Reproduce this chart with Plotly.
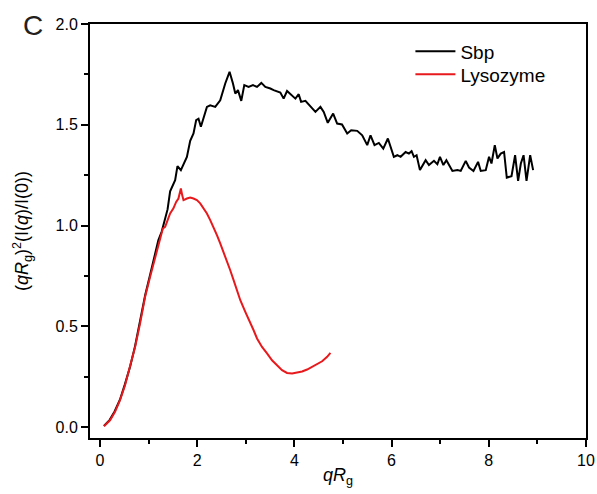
import plotly.graph_objects as go

# Sbp (black) data
sbp_x = [0.08, 0.2, 0.3, 0.41, 0.51, 0.62, 0.72, 0.82, 0.93, 1.03, 1.13, 1.2,
         1.27, 1.33, 1.39, 1.443, 1.5, 1.546, 1.594, 1.664, 1.788, 1.856, 1.924,
         1.979, 2.027, 2.076, 2.2, 2.268, 2.371, 2.474, 2.577, 2.666, 2.736,
         2.784, 2.839, 2.907, 2.969, 3.058, 3.148, 3.231, 3.32, 3.402, 3.505,
         3.573, 3.711, 3.779, 3.849, 3.953, 4.021, 4.089, 4.138, 4.227, 4.33,
         4.433, 4.536, 4.604, 4.687, 4.798, 4.88, 4.98, 5.087, 5.169, 5.293,
         5.396, 5.499, 5.567, 5.649, 5.738, 5.829, 5.924, 6.047, 6.118, 6.186,
         6.289, 6.357, 6.412, 6.46, 6.515, 6.584, 6.701, 6.769, 6.872, 6.942,
         6.996, 7.066, 7.128, 7.252, 7.355, 7.423, 7.526, 7.594, 7.685, 7.78,
         7.835, 7.938, 8.006, 8.056, 8.124, 8.179, 8.247, 8.315, 8.371, 8.468,
         8.542, 8.604, 8.66, 8.716, 8.777, 8.852, 8.913]
sbp_y = [0.005, 0.035, 0.077, 0.135, 0.21, 0.30, 0.40, 0.52, 0.655, 0.755, 0.85, 0.926,
         0.97, 1.02, 1.08, 1.17, 1.2, 1.225, 1.295, 1.275, 1.34, 1.42, 1.457,
         1.523, 1.53, 1.49, 1.589, 1.597, 1.589, 1.622, 1.705, 1.763, 1.705,
         1.655, 1.672, 1.619, 1.697, 1.688, 1.697, 1.688, 1.708, 1.688, 1.68,
         1.672, 1.66, 1.63, 1.668, 1.647, 1.63, 1.652, 1.614, 1.619, 1.589,
         1.564, 1.589, 1.564, 1.51, 1.556, 1.506, 1.502, 1.457, 1.473, 1.47,
         1.448, 1.399, 1.448, 1.399, 1.41, 1.382, 1.432, 1.341, 1.349, 1.341,
         1.365, 1.357, 1.369, 1.341, 1.349, 1.275, 1.324, 1.3, 1.321, 1.304,
         1.341, 1.3, 1.324, 1.271, 1.275, 1.271, 1.321, 1.288, 1.271, 1.316,
         1.271, 1.275, 1.341, 1.308, 1.399, 1.333, 1.357, 1.365, 1.238, 1.245,
         1.349, 1.222, 1.308, 1.349, 1.222, 1.349, 1.275]

# Lysozyme (red) data
lys_x = [0.082, 0.206, 0.309, 0.412, 0.515, 0.619, 0.722, 0.825, 0.928, 1.031,
         1.134, 1.203, 1.251, 1.293, 1.34, 1.388, 1.443, 1.511, 1.567, 1.614,
         1.664, 1.691, 1.718, 1.788, 1.856, 1.924, 1.994, 2.062, 2.13, 2.2,
         2.268, 2.336, 2.406, 2.474, 2.542, 2.612, 2.68, 2.749, 2.818, 2.887,
         2.99, 3.093, 3.161, 3.231, 3.334, 3.437, 3.54, 3.643, 3.746, 3.849,
         3.953, 4.056, 4.159, 4.262, 4.365, 4.468, 4.571, 4.674, 4.742]
lys_y = [0.003, 0.033, 0.075, 0.133, 0.207, 0.298, 0.397, 0.514, 0.646, 0.745,
         0.836, 0.894, 0.936, 0.985, 0.993, 1.027, 1.06, 1.085, 1.117, 1.134,
         1.184, 1.151, 1.126, 1.134, 1.139, 1.134, 1.126, 1.11, 1.085, 1.06,
         1.027, 0.993, 0.952, 0.911, 0.869, 0.828, 0.778, 0.729, 0.679, 0.629,
         0.571, 0.521, 0.48, 0.439, 0.397, 0.365, 0.331, 0.306, 0.282, 0.268,
         0.265, 0.27, 0.275, 0.285, 0.298, 0.31, 0.326, 0.348, 0.368]

x_ticks = [0, 2, 4, 6, 8, 10]
x_tick_labels = ["0", "2", "4", "6", "8", "10"]
y_ticks = [0.0, 0.5, 1.0, 1.5, 2.0]
y_tick_labels = ["0.0", "0.5", "1.0", "1.5", "2.0"]

FONT = "Liberation Sans, Arial, sans-serif"

fig = go.Figure()
fig.add_trace(go.Scatter(x=sbp_x, y=sbp_y, mode="lines", name="Sbp",
                         line=dict(color="#000000", width=2), legend="legend"))
fig.add_trace(go.Scatter(x=lys_x, y=lys_y, mode="lines", name="Lysozyme",
                         line=dict(color="#e8191c", width=2), legend="legend2"))

leg_common = dict(xanchor="left", yanchor="top", bgcolor="rgba(0,0,0,0)",
                  font=dict(size=19, family=FONT), itemwidth=40)

fig.update_layout(
    width=597, height=494,
    margin=dict(l=90, r=11, t=24, b=56),
    paper_bgcolor="white", plot_bgcolor="white",
    font=dict(family=FONT, size=16, color="#000000"),
    showlegend=True,
    legend=dict(x=0.646, y=0.98, **leg_common),
    legend2=dict(x=0.646, y=0.924, **leg_common),
    annotations=[dict(text="C", x=-0.114, y=0.997, xref="paper", yref="paper",
                      xanchor="center", yanchor="middle", showarrow=False,
                      font=dict(size=28, family=FONT, color="#231f20"))],
)

fig.update_xaxes(
    range=[-0.206, 10.001], tickvals=x_ticks, ticktext=x_tick_labels,
    showgrid=False, zeroline=False, automargin=False,
    showline=True, linecolor="black", linewidth=2, mirror=True,
    ticks="outside", ticklen=7, tickwidth=1.5, tickcolor="black",
    minor=dict(ticks="outside", ticklen=4, tickwidth=1.5, tickcolor="black",
               dtick=1, tick0=0, showgrid=False),
    tickfont=dict(size=16, family=FONT),
    title=dict(text="<i>qR</i><sub>g</sub>", font=dict(size=18, family=FONT),
               standoff=0),
)
fig.update_yaxes(
    range=[-0.055, 2.0005], tickvals=y_ticks, ticktext=y_tick_labels,
    showgrid=False, zeroline=False, automargin=False,
    showline=True, linecolor="black", linewidth=2, mirror=True,
    ticks="outside", ticklen=7, tickwidth=1.5, tickcolor="black",
    minor=dict(ticks="outside", ticklen=4, tickwidth=1.5, tickcolor="black",
               dtick=0.25, tick0=0, showgrid=False),
    tickfont=dict(size=16, family=FONT),
    title=dict(text="(<i>qR</i><sub>g</sub>)<sup>2</sup>(I(<i>q</i>)/I(0))",
               font=dict(size=18, family=FONT), standoff=22),
)

fig.write_html(
    "out.html",
    config={"displayModeBar": False},
    post_script="document.body.style.margin='0';document.body.style.overflow='hidden';",
)
